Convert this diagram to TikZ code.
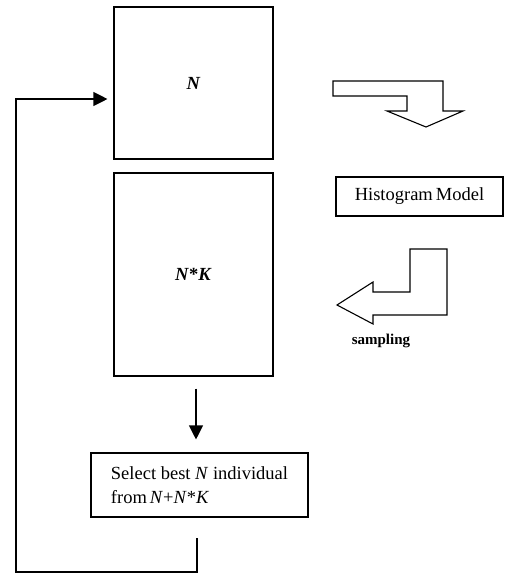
\documentclass[tikz,border=0pt]{standalone}
\usepackage{fontspec}
\setmainfont{Liberation Serif}
\usetikzlibrary{arrows.meta}

\begin{document}
\begin{tikzpicture}[x=1pt,y=-1pt,line width=1.1pt,
    box/.style={draw,inner sep=0pt,font=\fontsize{18.5}{24}\selectfont},
    fill arrow/.style={-{Triangle[length=14pt,width=14pt]}}]
      \useasboundingbox (0,0) rectangle (509,574);
      \node[box,minimum width=159pt,minimum height=152pt] (pop) at (193.5,83) {\textbf{\textit{N}}};
      \node[box,minimum width=159pt,minimum height=203pt] (offspring) at (193.5,274.5) {\textbf{\textit{N}*\textit{K}}};
      \node[box,minimum width=217pt,minimum height=64pt,align=left] (select) at (199.5,485)
        {Select best \textit{N} individual\\from\,\textit{N}+\textit{N}*\textit{K}};
      \node[box,minimum width=167pt,minimum height=39pt] (model) at (419.5,196.5) {Histogram\,Model};
      \node[font=\fontsize{15}{18}\selectfont\bfseries] (sampling) at (381,341) {sampling};
      \coordinate (back) at (197,538);
      \coordinate (corner) at (16,572);
      \draw[fill arrow,shorten <=12pt,shorten >=13pt] ([xshift=2.5pt]offspring.south) -- ([xshift=2.5pt]offspring.south |- select.north);
      \draw[fill arrow] (back) |- (corner) |- ([yshift=-16pt,xshift=-6pt]pop.west);
      % block arrows
      \draw (333,81) -- (443,81) -- (443,111) -- (463,111) -- (426,127) -- (387,111)
        -- (407,111) -- (407,96) -- (333,96) -- cycle;
      \draw (410,249) -- (447,249) -- (447,315) -- (373,315) -- (373,324) -- (337,305)
        -- (373,282) -- (373,292) -- (410,292) -- cycle;
    \end{tikzpicture}
\end{document}
